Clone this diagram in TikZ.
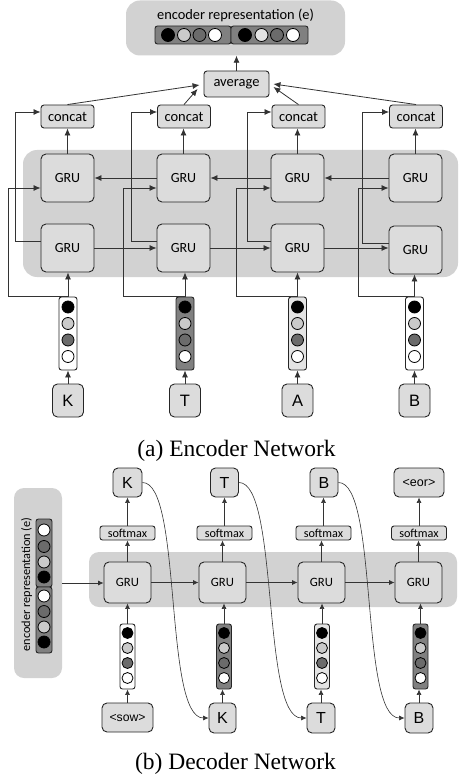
\documentclass[tikz,border=0pt]{standalone}
\usepackage{fontspec}
\setmainfont{Liberation Serif}
\newfontfamily\calibfont{Carlito}
\newfontfamily\arialfont{Liberation Sans}
\usetikzlibrary{arrows.meta,calc}
\definecolor{boxgray}{HTML}{DCDCDC}
\definecolor{panelgray}{HTML}{D2D2D2}
\definecolor{vecdark}{HTML}{808080}
\definecolor{veclight}{HTML}{E4E4E4}
\definecolor{dotlight}{HTML}{CACACA}
\definecolor{dotdark}{HTML}{6B6B6B}
\definecolor{linegray}{HTML}{333333}

\begin{document}
\begin{tikzpicture}[x=1pt,y=-1pt,
  panel/.style={fill=panelgray, draw=none, rounded corners=14pt, inner sep=0pt},
  box/.style={draw=black!85, line width=0.9pt, fill=boxgray, rounded corners=5pt, inner sep=0pt},
  grubox/.style={box, minimum width=53pt, minimum height=48pt, font=\calibfont\fontsize{14}{16}\selectfont},
  dgrubox/.style={box, minimum width=47pt, minimum height=41pt, font=\calibfont\fontsize{12.7}{14}\selectfont},
  smallbox/.style={box, rounded corners=3pt, minimum height=23pt, font=\calibfont\fontsize{14.5}{16}\selectfont},
  softbox/.style={box, rounded corners=2.5pt, minimum width=55pt, minimum height=14pt, font=\calibfont\fontsize{12.2}{13}\selectfont},
  letterbox/.style={box, minimum width=31pt, minimum height=33pt, font=\arialfont\fontsize{16.5}{18}\selectfont},
  dletterbox/.style={box, minimum width=28pt, minimum height=30pt, font=\arialfont\fontsize{16}{18}\selectfont},
  vecbox/.style={draw=black!85, line width=0.9pt, rounded corners=2.5pt, inner sep=0pt},
  dot/.style={circle, draw=black, line width=0.8pt, minimum size=12pt, inner sep=0pt},
  arr/.style={draw=linegray, line width=0.8pt, -{Latex[length=7pt,width=6pt]}},
  arrs/.style={draw=linegray, line width=0.7pt, -{Latex[length=5.5pt,width=5pt]}},
  caption/.style={font=\fontsize{23.5}{26}\selectfont, inner sep=0pt}
]
\useasboundingbox (0,0) rectangle (459,778);

% ---------------- Encoder ----------------
% shared encoder representation
\node[panel, minimum width=219pt, minimum height=55pt] (rep) at (235.5,28) {};
\node[font=\calibfont\fontsize{14.4}{16}\selectfont, inner sep=0pt] (replabel) at (235.5,15) {encoder representation (e)};
\node[vecbox, fill=vecdark, minimum width=76pt, minimum height=18pt] (repl) at (193,35) {};
\node[vecbox, fill=vecdark, minimum width=77pt, minimum height=18pt] (repr) at (269.5,35) {};
\foreach \x/\c in {168/black,184/dotlight,199.5/dotdark,215/white,245/black,261.5/veclight,277/dotdark,293/white}
  \node[dot, minimum size=13pt, fill=\c] at (\x,35) {};

% bidirectional GRU panel
\node[panel, minimum width=435pt, minimum height=127pt] (encpanel) at (240.5,213.5) {};

\node[smallbox, minimum width=65pt, minimum height=26pt] (avg) at (236.5,84) {average};

\foreach \i/\x in {1/67.5,2/184,3/298.5,4/416} {
  \node[smallbox, minimum width=53pt] (c\i) at (\x,116.5) {concat};
}
\foreach \i/\x/\yb in {1/67.5/248,2/183.5/248,3/297.5/248,4/415.5/250} {
  \node[grubox] (t\i) at (\x,178) {GRU};
  \node[grubox] (b\i) at (\x,\yb) {GRU};
}
% input embeddings and characters
\foreach \i/\x/\f/\ch in {1/68/white/K,2/185/vecdark/T,3/297.5/veclight/A,4/414.5/white/B} {
  \node[vecbox, fill=\f, minimum width=18pt, minimum height=73pt] (v\i) at (\x,333.5) {};
  \foreach \y/\c in {307/black,323.5/dotlight,340/dotdark,356.5/white}
    \node[dot, fill=\c] at (\x,\y) {};
  \node[letterbox] (L\i) at (\x,400.5) {\ch};
}

% routing corners
\coordinate (xl1) at (8,188);   \coordinate (xs1) at (15,112);
\coordinate (xl2) at (123,188); \coordinate (xs2) at (131,112);
\coordinate (xl3) at (236,188); \coordinate (xs3) at (247,112);
\coordinate (xl4) at (358,188); \coordinate (xs4) at (362,112);

\foreach \i in {1,...,4} {
  \draw[arr] (L\i.north) -- (v\i.south);
  \draw[arr] (v\i.north) -- (v\i.north |- b\i.south);
  \draw[arr] (t\i.north) -- (t\i.north |- c\i.south);
  \draw[arr] (v\i.north) -| (xl\i) -- (xl\i -| t\i.west);
  \draw[arr] ($(b\i.west)+(0,-7)$) -| (xs\i) -- (xs\i -| c\i.west);
}
\draw[arr] (t2.west) -- (t1.east);
\draw[arr] (t3.west) -- (t2.east);
\draw[arr] (t4.west) -- (t3.east);
\draw[arr] (b1.east) -- (b2.west);
\draw[arr] (b2.east) -- (b3.west);
\draw[arr] (b3.east) -- (b3.east -| b4.west);

\draw[arr] (c1.north) -- ($(avg.west)+(-4,1)$);
\draw[arr] (c2.north) -- ($(avg.west)+(-6,5)$);
\draw[arr] (c3.north) -- ($(avg.east)+(4,3)$);
\draw[arr] (c4.north) -- ($(avg.east)+(4,0)$);
\draw[arr] (avg.north) -- (avg.north |- rep.south);

\node[caption] (capa) at (236.5,451) {(a) Encoder Network};

% ---------------- Decoder ----------------
\node[panel, rounded corners=10pt, minimum width=48pt, minimum height=190pt] (erep) at (38,583) {};
\node[rotate=90, font=\calibfont\fontsize{12.3}{14}\selectfont, inner sep=0pt] (ereplabel) at (26.5,584.5) {encoder representation (e)};
\node[vecbox, fill=vecdark, minimum width=16pt, minimum height=68pt] (erept) at (44,553) {};
\node[vecbox, fill=vecdark, minimum width=16pt, minimum height=66pt] (erepb) at (44,620) {};
\foreach \y/\c in {530/white,546.5/dotdark,562/dotlight,577/black,596/white,611.5/dotdark,627/dotlight,642/black}
  \node[dot, fill=\c] at (44,\y) {};

\node[panel, rounded corners=10pt, minimum width=368pt, minimum height=55pt] (decpanel) at (273,579.5) {};

\foreach \i/\x/\sx/\ox/\ix/\f in {1/127.5/127.5/127.5/127.5/white,2/222.5/224.5/224.5/224/vecdark,3/321.5/323.5/324/322/veclight,4/418.5/419/419/420.5/vecdark} {
  \node[dgrubox] (d\i) at (\x,582.5) {GRU};
  \node[softbox] (s\i) at (\sx,533) {softmax};
  \node[vecbox, fill=\f, minimum width=15pt, minimum height=65pt] (iv\i) at (\ix,656.5) {};
  \foreach \y/\c in {633/black,648/dotlight,663/dotdark,678/white}
    \node[dot, minimum size=11pt, fill=\c] at (\ix,\y) {};
}
\node[dletterbox, minimum width=29pt, minimum height=29pt] (o1) at (127.5,482.5) {K};
\node[dletterbox, minimum width=28pt, minimum height=29pt] (o2) at (224.5,482.5) {T};
\node[dletterbox, minimum width=28pt, minimum height=29pt] (o3) at (324,482.5) {B};
\node[dletterbox, minimum width=50pt, minimum height=29pt, font=\arialfont\fontsize{12.5}{14}\selectfont] (o4) at (419,482.5) {<eor>};

\node[dletterbox, minimum width=51pt, minimum height=29pt, font=\arialfont\fontsize{12.2}{14}\selectfont] (I1) at (127.5,717.5) {<sow>};
\node[dletterbox, minimum width=27pt] (I2) at (222.5,718) {K};
\node[dletterbox] (I3) at (321,718) {T};
\node[dletterbox] (I4) at (419,718) {B};

\foreach \i in {1,...,4} {
  \draw[arrs] (I\i.north) -- (I\i.north |- iv\i.south);
  \draw[arrs] (iv\i.north) -- (iv\i.north |- d\i.south);
  \draw[arrs] (d\i.north) -- (d\i.north |- s\i.south);
  \draw[arrs] (s\i.north) -- (s\i.north |- o\i.south);
}
\draw[arrs] (erep.east) -- (erep.east -| d1.west);
\draw[arrs] (d1.east) -- (d2.west);
\draw[arrs] (d2.east) -- (d3.west);
\draw[arrs] (d3.east) -- (d4.west);

\draw[arrs, line width=0.6pt] (o1.east) .. controls +(40,0) and +(-45,0) .. (I2.west);
\draw[arrs, line width=0.6pt] (o2.east) .. controls +(40,0) and +(-45,0) .. (I3.west);
\draw[arrs, line width=0.6pt] (o3.east) .. controls +(40,0) and +(-45,0) .. (I4.west);

\node[caption] (capb) at (235.5,764) {(b) Decoder Network};
\end{tikzpicture}
\end{document}
